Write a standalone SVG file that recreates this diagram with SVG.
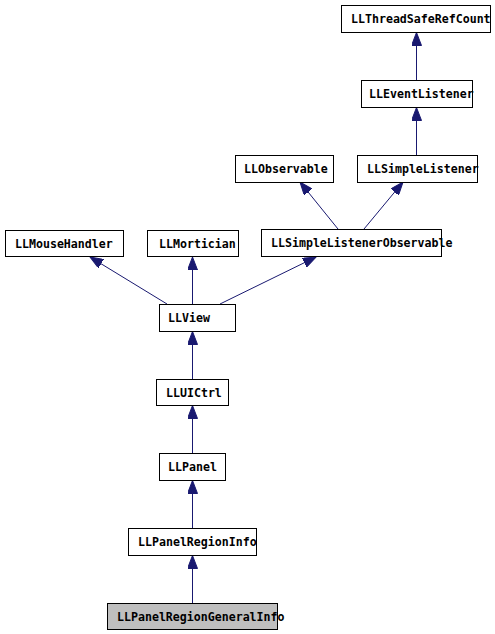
<svg xmlns="http://www.w3.org/2000/svg" width="495" height="634" viewBox="0 0 495 634">
<style>
.n rect{fill:#ffffff;stroke:#000000;stroke-width:1}
.n.cur rect{fill:#bfbfbf}
.n text{font-family:"DejaVu Sans Mono","Liberation Mono",monospace;font-weight:bold;font-size:11.6px;fill:#000000}
.e line{stroke:#191970;stroke-width:1;marker-end:url(#ah)}
</style>
<defs>
<marker id="ah" markerUnits="userSpaceOnUse" markerWidth="14" markerHeight="10" refX="13" refY="5" orient="auto" viewBox="0 0 14 10">
<path d="M0,0 L13,5 L0,10 z" fill="#191970" stroke="#191970" stroke-width="1"/>
</marker>
</defs>
<rect width="495" height="634" fill="#ffffff"/>
<g id="connectors" class="e">
<line x1="416.5" y1="80" x2="416.5" y2="32.5"/>
<line x1="416.5" y1="155" x2="416.5" y2="107.5"/>
<line x1="338" y1="229" x2="300" y2="182"/>
<line x1="364" y1="229" x2="403" y2="182"/>
<line x1="167" y1="304" x2="90" y2="257"/>
<line x1="192.5" y1="304" x2="192.5" y2="257"/>
<line x1="220" y1="304" x2="316" y2="257"/>
<line x1="192.5" y1="379" x2="192.5" y2="331.5"/>
<line x1="192.5" y1="453" x2="192.5" y2="405.5"/>
<line x1="192.5" y1="528" x2="192.5" y2="480.5"/>
<line x1="192.5" y1="603" x2="192.5" y2="555.5"/>
</g>
<g id="LLThreadSafeRefCount" class="n"><rect x="341.5" y="5.5" width="149" height="27"/><text x="351" y="23">LLThreadSafeRefCount</text></g>
<g id="LLEventListener" class="n"><rect x="361.5" y="80.5" width="111" height="27"/><text x="369" y="98">LLEventListener</text></g>
<g id="LLObservable" class="n"><rect x="235.5" y="155.5" width="98" height="27"/><text x="244" y="173">LLObservable</text></g>
<g id="LLSimpleListener" class="n"><rect x="357.5" y="155.5" width="120" height="27"/><text x="367" y="173">LLSimpleListener</text></g>
<g id="LLMouseHandler" class="n"><rect x="5.5" y="230.5" width="118" height="26"/><text x="15" y="248">LLMouseHandler</text></g>
<g id="LLMortician" class="n"><rect x="147.5" y="230.5" width="91" height="26"/><text x="159" y="248">LLMortician</text></g>
<g id="LLSimpleListenerObservable" class="n"><rect x="261.5" y="229.5" width="180" height="27"/><text x="271" y="247">LLSimpleListenerObservable</text></g>
<g id="LLView" class="n"><rect x="159.5" y="304.5" width="76" height="27"/><text x="168" y="322">LLView</text></g>
<g id="LLUICtrl" class="n"><rect x="156.5" y="379.5" width="72" height="26"/><text x="166" y="397">LLUICtrl</text></g>
<g id="LLPanel" class="n"><rect x="159.5" y="453.5" width="66" height="27"/><text x="168" y="471">LLPanel</text></g>
<g id="LLPanelRegionInfo" class="n"><rect x="128.5" y="528.5" width="128" height="27"/><text x="138" y="546">LLPanelRegionInfo</text></g>
<g id="LLPanelRegionGeneralInfo" class="n cur"><rect x="107.5" y="603.5" width="170" height="26"/><text x="117" y="621">LLPanelRegionGeneralInfo</text></g>
</svg>
